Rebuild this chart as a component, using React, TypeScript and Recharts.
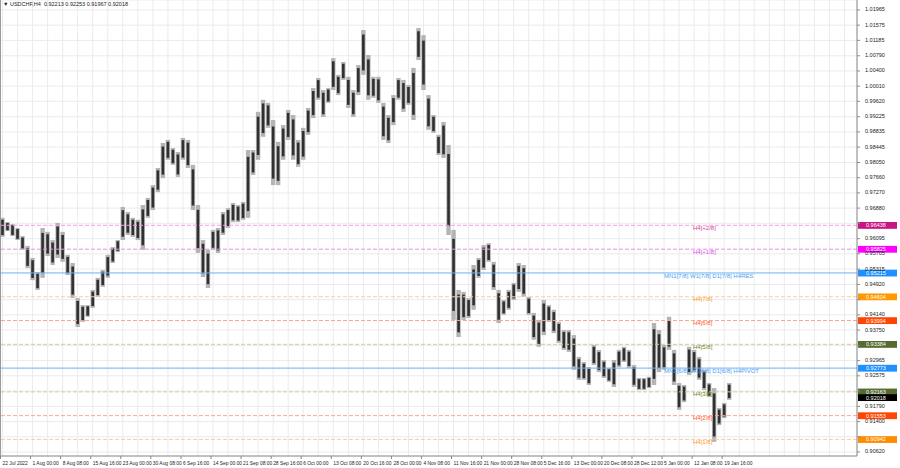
import React from 'react';
import { ComposedChart, Bar, XAxis, YAxis, CartesianGrid, ReferenceLine } from 'recharts';

// USDCHF H4, one entry per ~5px slice of the original chart (high / low of the candles in it)
const highs = [
  0.9663, 0.9652, 0.9647, 0.9637, 0.9616, 0.9591, 0.9560, 0.9524, 0.9637, 0.9627,
  0.9606, 0.9650, 0.9627, 0.9568, 0.9547, 0.9457, 0.9439, 0.9439, 0.9478, 0.9509,
  0.9529, 0.9568, 0.9588, 0.9606, 0.9691, 0.9678, 0.9663, 0.9658, 0.9696, 0.9714,
  0.9747, 0.9791, 0.9855, 0.9863, 0.9842, 0.9832, 0.9868, 0.9863, 0.9799, 0.9696,
  0.9606, 0.9581, 0.9632, 0.9637, 0.9678, 0.9688, 0.9701, 0.9696, 0.9704, 0.9837,
  0.9837, 0.9935, 0.9966, 0.9958, 0.9914, 0.9858, 0.9901, 0.9940, 0.9927, 0.9863,
  0.9894, 0.9945, 0.9996, 1.0022, 0.9991, 0.9996, 1.0073, 1.0030, 1.0063, 1.0025,
  0.9991, 1.0055, 1.0145, 1.0081, 1.0025, 1.0025, 0.9958, 0.9927, 0.9978, 1.0022,
  1.0017, 1.0004, 1.0048, 1.0150, 1.0132, 0.9978, 0.9927, 0.9876, 0.9909, 0.9850,
  0.9632, 0.9478, 0.9473, 0.9457, 0.9542, 0.9560, 0.9593, 0.9598, 0.9550, 0.9478,
  0.9452, 0.9478, 0.9496, 0.9547, 0.9542, 0.9460, 0.9419, 0.9401, 0.9452, 0.9439,
  0.9427, 0.9396, 0.9375, 0.9375, 0.9362, 0.9306, 0.9293, 0.9280, 0.9337, 0.9324,
  0.9298, 0.9278, 0.9298, 0.9324, 0.9332, 0.9324, 0.9285, 0.9252, 0.9252, 0.9255,
  0.9393, 0.9375, 0.9337, 0.9409, 0.9324, 0.9239, 0.9234, 0.9332, 0.9324, 0.9306,
  0.9273, 0.9239, 0.9226, 0.9175, 0.9188, 0.9239,
];

const lows = [
  0.9614, 0.9629, 0.9616, 0.9606, 0.9581, 0.9534, 0.9503, 0.9478, 0.9509, 0.9565,
  0.9542, 0.9560, 0.9550, 0.9516, 0.9457, 0.9383, 0.9396, 0.9409, 0.9432, 0.9460,
  0.9486, 0.9509, 0.9547, 0.9575, 0.9606, 0.9619, 0.9614, 0.9606, 0.9581, 0.9663,
  0.9683, 0.9729, 0.9765, 0.9812, 0.9799, 0.9768, 0.9812, 0.9791, 0.9683, 0.9573,
  0.9511, 0.9483, 0.9581, 0.9573, 0.9619, 0.9637, 0.9652, 0.9652, 0.9658, 0.9663,
  0.9773, 0.9812, 0.9871, 0.9894, 0.9747, 0.9747, 0.9812, 0.9863, 0.9812, 0.9794,
  0.9812, 0.9876, 0.9919, 0.9966, 0.9922, 0.9958, 0.9991, 0.9978, 1.0017, 0.9945,
  0.9922, 0.9978, 1.0030, 0.9966, 0.9971, 0.9958, 0.9863, 0.9855, 0.9901, 0.9966,
  0.9935, 0.9953, 0.9914, 1.0068, 0.9991, 0.9889, 0.9881, 0.9824, 0.9817, 0.9619,
  0.9401, 0.9357, 0.9401, 0.9406, 0.9427, 0.9509, 0.9529, 0.9550, 0.9478, 0.9393,
  0.9414, 0.9427, 0.9452, 0.9473, 0.9460, 0.9414, 0.9350, 0.9332, 0.9362, 0.9396,
  0.9367, 0.9342, 0.9324, 0.9319, 0.9273, 0.9247, 0.9247, 0.9234, 0.9285, 0.9267,
  0.9252, 0.9242, 0.9229, 0.9280, 0.9293, 0.9278, 0.9229, 0.9221, 0.9221, 0.9226,
  0.9234, 0.9267, 0.9273, 0.9324, 0.9234, 0.9170, 0.9190, 0.9260, 0.9267, 0.9247,
  0.9221, 0.9203, 0.9088, 0.9131, 0.9149, 0.9196,
];

// chart is shifted: empty slots to the right of the last bar
const totalSlots = 171;

const dateLabels = [
  '22 Jul 2022', '1 Aug 00:00', '8 Aug 08:00', '15 Aug 16:00', '23 Aug 00:00', '30 Aug 08:00',
  '6 Sep 16:00', '14 Sep 00:00', '21 Sep 08:00', '28 Sep 16:00', '6 Oct 00:00', '13 Oct 08:00',
  '20 Oct 16:00', '28 Oct 00:00', '4 Nov 08:00', '11 Nov 16:00', '21 Nov 00:00', '28 Nov 08:00',
  '5 Dec 16:00', '13 Dec 00:00', '20 Dec 08:00', '28 Dec 12:00', '5 Jan 00:00', '12 Jan 08:00',
  '19 Jan 16:00',
];

const priceTicks = [
  1.01965, 1.01575, 1.01185, 1.0079, 1.004, 1.0001, 0.9962, 0.99225, 0.98835, 0.98445,
  0.9805, 0.9766, 0.9727, 0.9688, 0.9649, 0.96095, 0.95705, 0.95315, 0.9492, 0.9453,
  0.9414, 0.9375, 0.93355, 0.92965, 0.92575, 0.92185, 0.9179, 0.914, 0.9101, 0.9062,
];

const levelValues = [0.96438, 0.95825, 0.95215, 0.94604, 0.93994, 0.93384, 0.92773, 0.92163, 0.91553, 0.90942];
const levelNames = [
  'H4[+2/8]', 'H4[+1/8]', 'MN1[7/8] W1[7/8] D1[7/8] H4RES', 'H4[7/8]', 'H4[6/8]',
  'H4[5/8]', 'MN1[6/8] W1[6/8] D1[6/8] H4PIVOT', 'H4[3/8]', 'H4[2/8]', 'H4[1/8]',
];
const levelStroke = ['#f3a0dc', '#f08cf0', '#69b1f7', '#f9cf9a', '#f6a88f', '#cfcaa8', '#69b1f7', '#cfcaa8', '#f6a88f', '#f9cf9a'];
const levelText = ['#d2419b', '#e04ee0', '#4d9ff0', '#ff9a1c', '#ff5a28', '#6b8e23', '#4d9ff0', '#6b8e23', '#ff5a28', '#ff9a1c'];
const levelTag = ['#c71585', '#ff00ff', '#1e90ff', '#ff9900', '#ff4500', '#556b2f', '#1e90ff', '#556b2f', '#ff4500', '#ff8c00'];
const levelSolid = [false, false, true, false, false, false, true, false, false, false];

const symbol = 'USDCHF,H4';
const ohlc = [0.92213, 0.92253, 0.91967, 0.92018];
const lastPrice = 0.92018;

const data = Array.from({ length: totalSlots }, (_, i) => ({
  i,
  range: i < highs.length ? [lows[i], highs[i]] : null,
}));

const gridTicks = data.filter((d) => d.i % 3 === 0).map((d) => d.i);

const FONT = '"Liberation Sans", Arial, sans-serif';

// light wick band + dark core, so the dense H4 candles read like the MT4 picture
const CandleSlice = (props: any) => {
  const { x, y, width, height, payload } = props;
  if (!payload || !payload.range) return null;
  const top = Math.min(y, y + height);
  const h = Math.max(Math.abs(height), 1);
  const inset = h > 6 ? h * 0.1 : 0;
  return (
    <g>
      <rect x={x + 0.3} y={top} width={Math.max(width - 0.6, 1)} height={h} fill="#b4b4b4" />
      <rect x={x + 1.2} y={top + inset} width={2.6} height={Math.max(h - 2 * inset, 1)} fill="#303030" />
    </g>
  );
};

const DateTick = (props: any) => {
  const { x, y, payload } = props;
  const idx = payload.value;
  if (idx % 6 !== 0) return null;
  const label = dateLabels[idx / 6];
  if (!label) return null;
  return (
    <g>
      <line x1={x - 2} y1={y - 8} x2={x - 2} y2={y - 5} stroke="#888" />
      <text x={x} y={y + 1} fontSize={4.9} fontFamily={FONT} fill="#222" textAnchor="start">
        {label}
      </text>
    </g>
  );
};

const PriceTick = (props: any) => {
  const { x, y, payload } = props;
  // MT4 hides the scale value under a level's price tag
  if (levelValues.some((v) => Math.abs(v - payload.value) < 0.0008)) return null;
  return (
    <text x={x + 1} y={y + 1.5} fontSize={5.5} fontFamily={FONT} fill="#222" textAnchor="start">
      {payload.value.toFixed(5)}
    </text>
  );
};

const tagLabel = (value: number, bg: string, name?: string, color?: string) => (p: any) => {
  const { x, y, width } = p.viewBox;
  const textX = name && name.startsWith('MN1') ? 664 : 693;
  return (
    <g>
      {name && (
        <text x={textX} y={y + 4.6} fontSize={6} fontFamily={FONT} fill={color}>
          {name}
        </text>
      )}
      <rect x={x + width + 1} y={y - 3.3} width={39} height={6.8} fill={bg} />
      <text x={x + width + 9} y={y + 2} fontSize={5.5} fontFamily={FONT} fill="#fff">
        {value.toFixed(5)}
      </text>
    </g>
  );
};

export default function App() {
  return (
    <div style={{ position: 'relative', width: 900, height: 468, background: '#fff' }}>
      <style>{'body{margin:0}'}</style>
      <ComposedChart
        width={900}
        height={468}
        data={data}
        margin={{ top: 0, right: 0, bottom: 0, left: 0 }}
        barCategoryGap={0}
        barGap={0}
      >
        <CartesianGrid stroke="#ebebeb" />
        <XAxis
          dataKey="i"
          type="category"
          ticks={gridTicks}
          interval={0}
          height={12}
          tickLine={false}
          axisLine={{ stroke: '#8c8c8c' }}
          tick={<DateTick />}
        />
        <YAxis
          orientation="right"
          width={43}
          domain={[0.90517, 1.02221]}
          ticks={priceTicks}
          interval={0}
          allowDataOverflow
          tickSize={3}
          tickMargin={4}
          axisLine={{ stroke: '#8c8c8c' }}
          tickLine={{ stroke: '#8c8c8c' }}
          tick={<PriceTick />}
        />
        {levelValues.map((v, k) => (
          <ReferenceLine
            key={k}
            y={v}
            stroke={levelStroke[k]}
            strokeWidth={1}
            strokeDasharray={levelSolid[k] ? undefined : '4 2'}
            label={tagLabel(v, levelTag[k], levelNames[k], levelText[k])}
          />
        ))}
        <Bar dataKey="range" shape={<CandleSlice />} isAnimationActive={false} />
        <ReferenceLine y={lastPrice} stroke="none" label={tagLabel(lastPrice, '#000')} />
      </ComposedChart>
      <div style={{ position: 'absolute', left: 0, top: 0, width: 1, height: 456, background: '#9a9a9a' }} />
      <div
        style={{
          position: 'absolute',
          left: 3,
          top: 1,
          fontFamily: FONT,
          fontSize: 5.5,
          color: '#222',
          whiteSpace: 'pre',
        }}
      >
        {'\u25BC ' + symbol + '  ' + ohlc.map((v) => v.toFixed(5)).join(' ')}
      </div>
    </div>
  );
}
